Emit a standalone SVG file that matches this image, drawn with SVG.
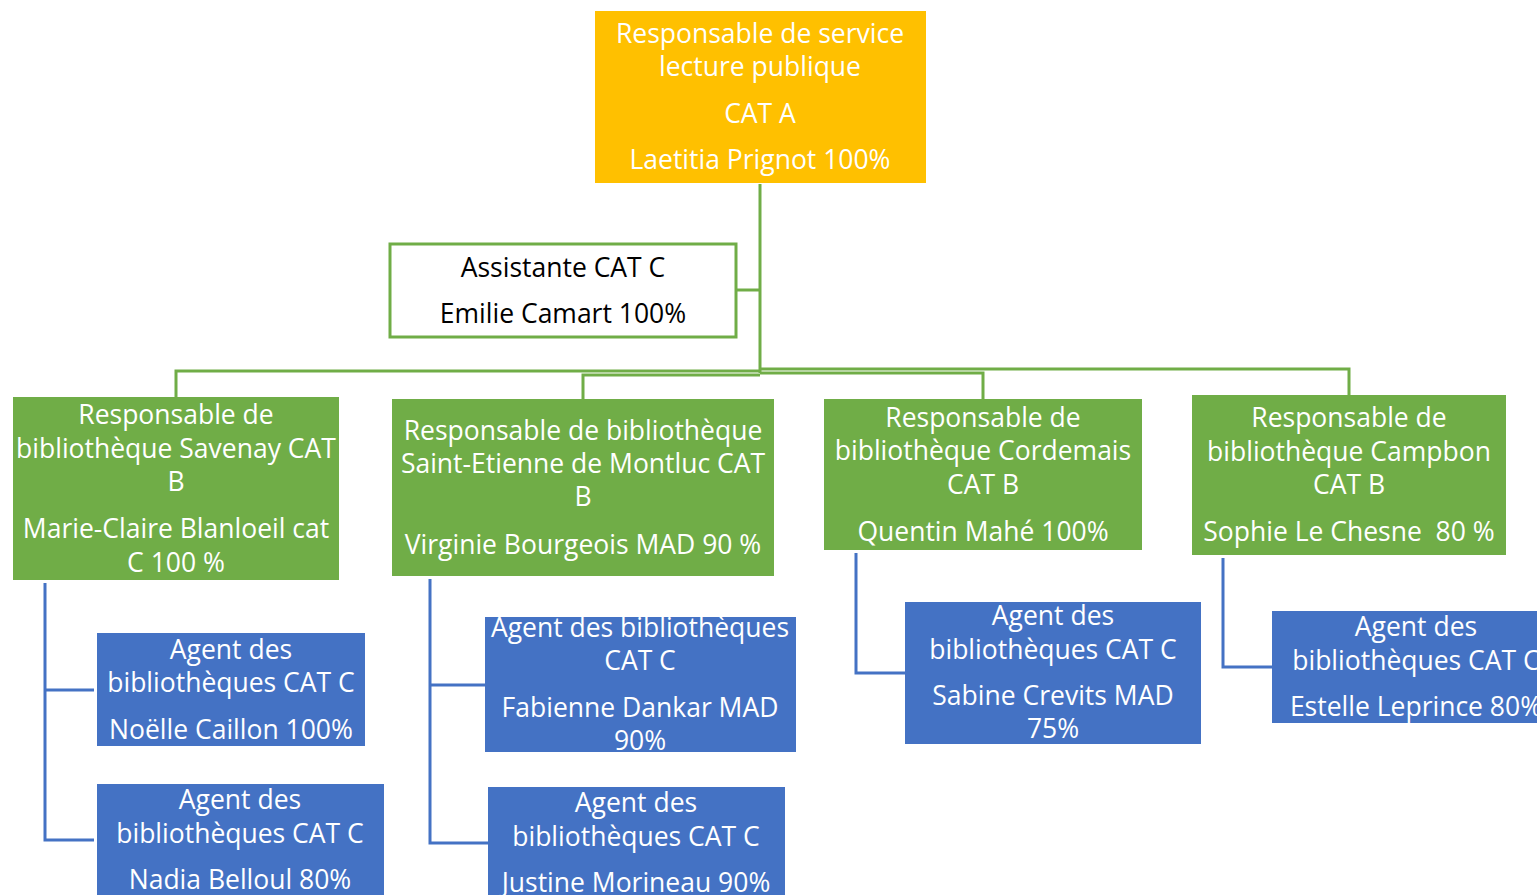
<svg xmlns="http://www.w3.org/2000/svg" width="1537" height="895" viewBox="0 0 1537 895">
<style>
text{font-family:"Open Sans","Noto Sans","Liberation Sans",sans-serif;font-size:26.5px;text-anchor:middle;fill:#fff}
.dk{fill:#000}
.or{fill:#FFC000}
.gr{fill:#70AD47}
.bl{fill:#4472C4}
.ln{fill:none;stroke-width:3}
.g{stroke:#70AD47}
.b{stroke:#4472C4}
</style>
<rect width="1537" height="895" fill="#fff"/>
<g id="connectors">
<path class="ln g" d="M760,184 V373"/>
<path class="ln g" d="M737,290 H760"/>
<path class="ln g" d="M760,371 H176 V397"/>
<path class="ln g" d="M760,375 H583 V399"/>
<path class="ln g" d="M760,373 H983 V399"/>
<path class="ln g" d="M760,369 H1349 V395"/>
<path class="ln b" d="M94,690 H45 V583 M45,690 V840 H94"/>
<path class="ln b" d="M485,685 H430 V579 M430,685 V843 H488"/>
<path class="ln b" d="M856,553 V673 H905"/>
<path class="ln b" d="M1223,558 V667 H1272"/>
</g>
<g id="n-top">
<rect class="or" x="595" y="11" width="331" height="172"/>
<text x="760" y="43">Responsable de service</text>
<text x="760" y="76">lecture publique</text>
<text x="760" y="123">CAT A</text>
<text x="760" y="169">Laetitia Prignot 100%</text>
</g>
<g id="n-assistante">
<rect x="390" y="244" width="346" height="93" fill="#fff" stroke="#70AD47" stroke-width="3"/>
<text class="dk" x="563" y="277">Assistante CAT C</text>
<text class="dk" x="563" y="323">Emilie Camart 100%</text>
</g>
<g id="n-savenay">
<rect class="gr" x="13" y="397" width="326" height="183"/>
<text x="176" y="424">Responsable de</text>
<text x="176" y="458">bibliothèque Savenay CAT</text>
<text x="176" y="491">B</text>
<text x="176" y="538">Marie-Claire Blanloeil cat</text>
<text x="176" y="572">C 100 %</text>
</g>
<g id="n-montluc">
<rect class="gr" x="392" y="399" width="382" height="177"/>
<text x="583" y="440">Responsable de bibliothèque</text>
<text x="583" y="473">Saint-Etienne de Montluc CAT</text>
<text x="583" y="506">B</text>
<text x="583" y="554">Virginie Bourgeois MAD 90 %</text>
</g>
<g id="n-cordemais">
<rect class="gr" x="824" y="399" width="318" height="151"/>
<text x="983" y="427">Responsable de</text>
<text x="983" y="460">bibliothèque Cordemais</text>
<text x="983" y="494">CAT B</text>
<text x="983" y="541">Quentin Mahé 100%</text>
</g>
<g id="n-campbon">
<rect class="gr" x="1192" y="395" width="314" height="160"/>
<text x="1349" y="427">Responsable de</text>
<text x="1349" y="461">bibliothèque Campbon</text>
<text x="1349" y="494">CAT B</text>
<text x="1349" y="541" xml:space="preserve">Sophie Le Chesne  80 %</text>
</g>
<g id="n-noelle">
<rect class="bl" x="97" y="633" width="268" height="113"/>
<text x="231" y="659">Agent des</text>
<text x="231" y="692">bibliothèques CAT C</text>
<text x="231" y="739">Noëlle Caillon 100%</text>
</g>
<g id="n-nadia">
<rect class="bl" x="97" y="784" width="287" height="120"/>
<text x="240" y="809">Agent des</text>
<text x="240" y="843">bibliothèques CAT C</text>
<text x="240" y="889">Nadia Belloul 80%</text>
</g>
<g id="n-fabienne">
<rect class="bl" x="485" y="617" width="311" height="135"/>
<text x="640" y="637">Agent des bibliothèques</text>
<text x="640" y="670">CAT C</text>
<text x="640" y="717">Fabienne Dankar MAD</text>
<text x="640" y="750">90%</text>
</g>
<g id="n-justine">
<rect class="bl" x="488" y="787" width="297" height="120"/>
<text x="636" y="812">Agent des</text>
<text x="636" y="846">bibliothèques CAT C</text>
<text x="636" y="892">Justine Morineau 90%</text>
</g>
<g id="n-sabine">
<rect class="bl" x="905" y="602" width="296" height="142"/>
<text x="1053" y="625">Agent des</text>
<text x="1053" y="659">bibliothèques CAT C</text>
<text x="1053" y="705">Sabine Crevits MAD</text>
<text x="1053" y="738">75%</text>
</g>
<g id="n-estelle">
<rect class="bl" x="1272" y="611" width="280" height="112"/>
<text x="1416" y="636">Agent des</text>
<text x="1416" y="670">bibliothèques CAT C</text>
<text x="1416" y="716">Estelle Leprince 80%</text>
</g>
</svg>
